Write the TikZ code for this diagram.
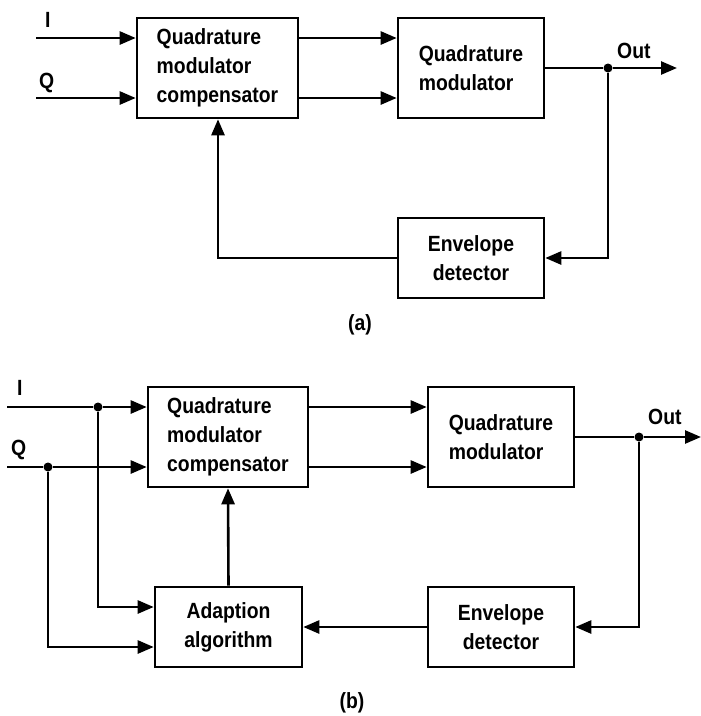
\documentclass[tikz,border=0pt]{standalone}
\usepackage{fontspec}
\setmainfont{Liberation Sans}[FakeStretch=0.88]
\usetikzlibrary{arrows.meta}
\tikzset{
  blk/.style={draw, line width=2.6pt, minimum width=146pt, minimum height=80pt, inner sep=0pt, font=\fontsize{22}{29}\selectfont\bfseries},
  lbl/.style={inner sep=0pt, anchor=base west, font=\fontsize{22}{24}\selectfont\bfseries},
  figcap/.style={inner sep=0pt, font=\fontsize{22}{24}\selectfont\bfseries},
  wire/.style={line width=2.6pt},
  arr/.style={wire, -{Triangle[length=16pt,width=13pt]}},
  dot/.style={circle, fill, inner sep=0pt, minimum size=9pt}
}
\begin{document}
\begin{tikzpicture}[x=1pt,y=-1pt]
\useasboundingbox (0,0) rectangle (701,716);
% ---------- (a) ----------
\node[blk, minimum width=161pt, minimum height=100pt, align=left] (qmcA) at (217.5,68) {Quadrature\\modulator\\compensator};
\node[blk, minimum height=100pt, align=left] (qmA) at (471,68) {Quadrature\\modulator};
\node[blk, align=center] (edA) at (471,258) {Envelope\\detector};
\coordinate (iA) at (36,38);
\coordinate (qA) at (36,98);
\node[lbl] (iAl) at (45,27) {I};
\node[lbl] (qAl) at (39,88) {Q};
\draw[arr] (iA) -- (qmcA.west |- iA);
\draw[arr] (qA) -- (qmcA.west |- qA);
\draw[arr] ([yshift=30pt]qmcA.east) -- ([yshift=30pt]qmA.west);
\draw[arr] ([yshift=-30pt]qmcA.east) -- ([yshift=-30pt]qmA.west);
\node[dot] (dA) at (608,68) {};
\coordinate (outA) at (677,68);
\draw[wire] (qmA.east) -- (dA);
\draw[arr] (dA) -- (outA);
\node[lbl] (outAl) at (617,58) {Out};
\draw[arr] (dA) |- (edA.east);
\coordinate (fbA) at (218,258);
\draw[arr] (edA.west) -- (fbA) -- (fbA |- qmcA.south);
\node[figcap] (capA) at (360,325) {(a)};
% ---------- (b) ----------
\node[blk, minimum width=160pt, minimum height=100pt, align=left] (qmcB) at (228,437) {Quadrature\\modulator\\compensator};
\node[blk, minimum height=100pt, align=left] (qmB) at (501,437) {Quadrature\\modulator};
\node[blk, minimum width=147pt, align=center] (adB) at (228.5,627) {Adaption\\algorithm};
\node[blk, align=center] (edB) at (501,627) {Envelope\\detector};
\coordinate (iB) at (7,407);
\coordinate (qB) at (7,467);
\node[lbl] (iBl) at (17,395) {I};
\node[lbl] (qBl) at (11,455) {Q};
\node[dot] (diB) at (98,407) {};
\node[dot] (dqB) at (48,467) {};
\draw[wire] (iB) -- (diB);
\draw[wire] (qB) -- (dqB);
\draw[arr] (diB) -- (qmcB.west |- diB);
\draw[arr] (dqB) -- (qmcB.west |- dqB);
\draw[arr] (diB) |- ([yshift=20pt]adB.west);
\draw[arr] (dqB) |- ([yshift=-20pt]adB.west);
\draw[arr] (adB.north) -- (qmcB.south);
\draw[arr] ([yshift=30pt]qmcB.east) -- ([yshift=30pt]qmB.west);
\draw[arr] ([yshift=-30pt]qmcB.east) -- ([yshift=-30pt]qmB.west);
\node[dot] (dB) at (639,437) {};
\coordinate (outB) at (701,437);
\draw[wire] (qmB.east) -- (dB);
\draw[arr] (dB) -- (outB);
\node[lbl] (outBl) at (648,424) {Out};
\draw[arr] (dB) |- (edB.east);
\draw[arr] (edB.west) -- (adB.east);
\node[figcap] (capB) at (352,703) {(b)};
\end{tikzpicture}
\end{document}
